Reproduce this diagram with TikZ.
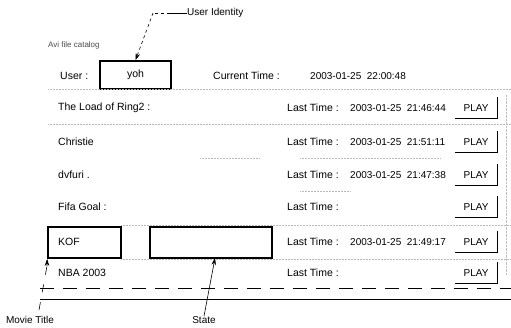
\documentclass[tikz,border=0pt]{standalone}
\usepackage{fontspec}
\setmainfont{Liberation Sans}
\usetikzlibrary{arrows.meta}
\begin{document}
\begin{tikzpicture}[x=1pt,y=-1pt,
  txt/.style={anchor=west,inner sep=0pt,font=\fontsize{10.5}{12}\selectfont},
  dtxt/.style={anchor=west,inner sep=0pt,font=\fontsize{10}{12}\selectfont},
  lbl/.style={inner sep=0pt,font=\fontsize{10}{12}\selectfont},
  hibox/.style={draw,line width=1.7pt,inner sep=0pt},
  sep/.style={gray!55,densely dotted,line width=0.5pt},
  lead/.style={line width=0.6pt,-{Stealth[length=7pt,width=4.5pt]}},
  playbtn/.style={inner sep=0pt,minimum width=42pt,minimum height=21pt,font=\fontsize{10}{12}\selectfont}
]
\useasboundingbox (0,0) rectangle (511,328);

% header (illegible in the reference)
\node[txt,font=\fontsize{8}{9}\selectfont,text=gray!60!black] (hdr) at (48,45) {Avi file catalog};

% user row
\node[txt] (userlbl) at (60,76) {User :};
\node[hibox,minimum width=71pt,minimum height=28pt,font=\fontsize{10.5}{12}\selectfont] (userbox) at (135.5,75) {yoh};
\node[txt] (curlbl) at (213,76) {Current Time :};
\node[dtxt] (curtime) at (310,76) {2003-01-25\ \ 22:00:48};

% separators
\draw[sep] (48,89) -- (511,89);
\draw[sep] (48,124) -- (511,124);
\draw[sep] (200,158) -- (260,158) (300,158) -- (440,158);
\draw[sep] (300,191) -- (350,191);
\draw[sep] (121,225) -- (511,225);
\draw[sep] (121,259) -- (511,259);
\draw[gray!50,densely dotted] (506,95) -- (506,275);

% rows
\foreach \i/\y/\t/\d in {1/108/The Load of Ring2 :/2003-01-25\ \ 21:46:44,
                         2/142/Christie/2003-01-25\ \ 21:51:11,
                         3/175/dvfuri ./2003-01-25\ \ 21:47:38,
                         4/207/Fifa Goal :/,
                         5/242/KOF/2003-01-25\ \ 21:49:17,
                         6/273/NBA 2003/}{
  \node[txt] (title\i) at (58,\y) {\t};
  \node[txt] (last\i) at (287,\y) {Last Time :};
  \node[dtxt] (date\i) at (350,\y) {\d};
  \node[playbtn] (play\i) at (476,\y) {PLAY};
  \draw[line width=0.8pt] (play\i.north east) -- (play\i.south east) -- (play\i.south west);
}

% highlight boxes
\node[hibox,minimum width=73pt,minimum height=31pt] (kofbox) at (84.5,242.5) {};
\node[hibox,minimum width=122pt,minimum height=31pt] (statebox) at (211,242.5) {};

% bottom lines
\coordinate (dl) at (40,288); \coordinate (dr) at (511,288);
\coordinate (sl) at (40,300); \coordinate (sr) at (511,300);
\draw[line width=0.8pt,dash pattern=on 14pt off 9pt] (dl) -- (dr);
\draw[line width=1pt] (sl) -- (sr);

% annotations
\node[lbl,anchor=west] (uid) at (187,13) {User Identity};
\coordinate (uidbend) at (153,13);
\coordinate (uidmid) at (170,13);
\draw[line width=0.6pt] (uid.west) -- (uidmid);
\draw[line width=0.6pt,dashed] (uidmid) -- (uidbend);
\draw[lead,dashed] (uidbend) -- (userbox.north);

\node[lbl] (movie) at (30,320) {Movie Title};
\coordinate (moviestart) at (39,310);
\coordinate (moviemid) at (47,266);
\draw[line width=0.6pt,dash pattern=on 8pt off 10pt] (moviestart) -- (moviemid);
\draw[lead] (moviemid) -- (kofbox.south west);

\node[lbl] (state) at (204,320) {State};
\coordinate (stateend) at (215,258);
\draw[lead] (state.north) -- (stateend);
\end{tikzpicture}
\end{document}
